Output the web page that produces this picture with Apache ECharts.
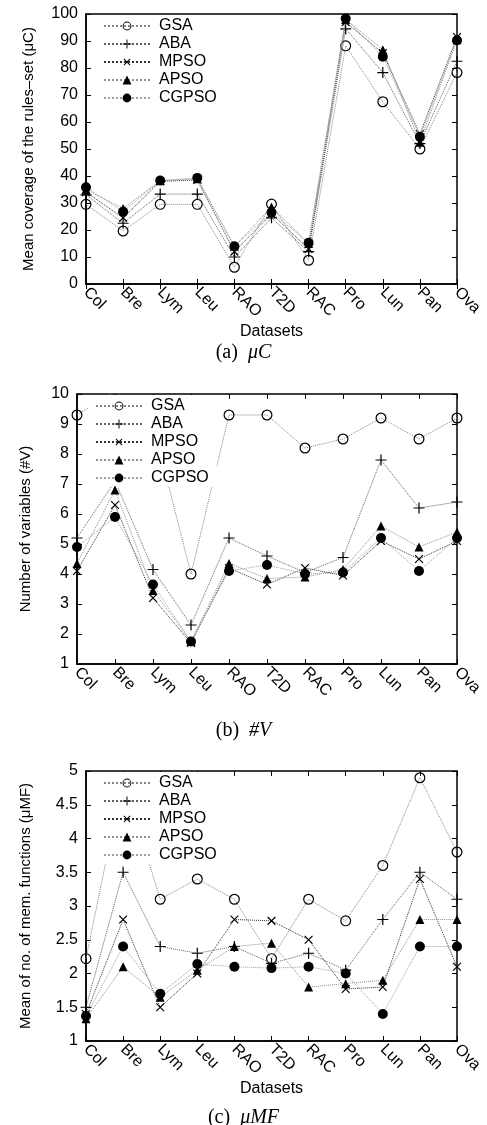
<!DOCTYPE html>
<html>
<head>
<meta charset="utf-8">
<script src="https://cdn.jsdelivr.net/npm/echarts@6/dist/echarts.min.js"></script>
<style>
  html, body { margin: 0; padding: 0; background: #fff; }
  #main { width: 487px; height: 1125px; }
</style>
</head>
<body>
<div id="main"></div>
<script>
// x ticks (datasets) and series names
const categories = ['Col', 'Bre', 'Lym', 'Leu', 'RAO', 'T2D', 'RAC', 'Pro', 'Lun', 'Pan', 'Ova'];
const algorithms = ['GSA', 'ABA', 'MPSO', 'APSO', 'CGPSO'];

// (a) mean coverage of the rules-set
const muC_GSA   = [29.5, 19.6, 29.5, 29.5, 6.2, 29.6, 8.8, 88.2, 67.5, 50.0, 78.3];
const muC_ABA   = [33.0, 22.5, 33.3, 33.3, 10.0, 24.5, 12.0, 94.5, 78.3, 52.0, 82.5];
const muC_MPSO  = [34.0, 24.5, 38.0, 38.5, 12.0, 26.0, 13.0, 97.0, 85.5, 55.5, 91.5];
const muC_APSO  = [35.0, 28.0, 38.3, 39.0, 14.0, 28.5, 15.0, 98.0, 86.8, 52.5, 90.5];
const muC_CGPSO = [35.8, 26.8, 38.3, 39.3, 14.0, 26.5, 15.3, 98.3, 84.2, 54.5, 90.3];

// (b) number of variables
const nV_GSA   = [9.3, 10.1, 9.0, 4.0, 9.3, 9.3, 8.2, 8.5, 9.2, 8.5, 9.2];
const nV_ABA   = [5.2, 7.1, 4.15, 2.3, 5.2, 4.6, 4.05, 4.55, 7.8, 6.2, 6.4];
const nV_MPSO  = [4.1, 6.3, 3.2, 1.7, 4.2, 3.65, 4.2, 3.95, 5.1, 4.5, 5.1];
const nV_APSO  = [4.35, 6.8, 3.45, 1.75, 4.35, 3.85, 3.9, 4.15, 5.6, 4.9, 5.4];
const nV_CGPSO = [4.9, 5.9, 3.65, 1.75, 4.1, 4.3, 4.0, 4.05, 5.2, 4.1, 5.2];

// (c) mean number of membership functions
const muMF_GSA   = [2.22, 4.9, 3.1, 3.4, 3.1, 2.22, 3.1, 2.78, 3.6, 4.9, 3.8];
const muMF_ABA   = [1.5, 3.5, 2.4, 2.3, 2.4, 2.15, 2.3, 2.05, 2.8, 3.5, 3.1];
const muMF_MPSO  = [1.4, 2.8, 1.5, 2.0, 2.8, 2.78, 2.5, 1.77, 1.8, 3.4, 2.1];
const muMF_APSO  = [1.33, 2.1, 1.65, 2.05, 2.4, 2.45, 1.8, 1.85, 1.9, 2.8, 2.8];
const muMF_CGPSO = [1.37, 2.4, 1.7, 2.14, 2.1, 2.08, 2.1, 2.0, 1.4, 2.4, 2.4];

const panels = [
  { data: [muC_GSA, muC_ABA, muC_MPSO, muC_APSO, muC_CGPSO], min: 0, max: 100, interval: 10,
    name: 'Mean coverage of the rules\u2013set (\u03bcC)', nameGap: 50, xName: 'Datasets',
    grid: { left: 86, top: 14, width: 371, height: 270 }, legendTop: 15, legendLeft: 97,
    caption: '{n|(a)}  {i|\u03bcC}', capTop: 338 },
  { data: [nV_GSA, nV_ABA, nV_MPSO, nV_APSO, nV_CGPSO], min: 1, max: 10, interval: 1,
    name: 'Number of variables (#V)', nameGap: 44, xName: '',
    grid: { left: 77, top: 394, width: 380, height: 270 }, legendTop: 395, legendLeft: 89,
    caption: '{n|(b)}  {i|#V}', capTop: 716 },
  { data: [muMF_GSA, muMF_ABA, muMF_MPSO, muMF_APSO, muMF_CGPSO], min: 1, max: 5, interval: 0.5,
    name: 'Mean of no. of mem. functions (\u03bcMF)', nameGap: 53, xName: 'Datasets',
    grid: { left: 86, top: 771, width: 371, height: 270 }, legendTop: 772, legendLeft: 97,
    caption: '{n|(c)}  {i|\u03bcMF}', capTop: 1103 }
];

const ringPath = 'path://M5,0A5,5 0 1,1 5,10A5,5 0 1,1 5,0Z M5,1.1A3.9,3.9 0 1,0 5,8.9A3.9,3.9 0 1,0 5,1.1Z';
const plusPath = 'path://M4.45,0H5.55V10H4.45Z M0,4.45H10V5.55H0Z';
const looks = {
  GSA:   { symbol: ringPath, size: 11, rotate: 0, line: '#858585' },
  ABA:   { symbol: plusPath, size: 11, rotate: 0, line: '#606060' },
  MPSO:  { symbol: plusPath, size: 11, rotate: 45, line: '#303030' },
  APSO:  { symbol: 'triangle', size: 9, rotate: 0, line: '#909090' },
  CGPSO: { symbol: 'circle', size: 10, rotate: 0, line: '#a0a0a0' }
};

const font = 'Liberation Sans, Arial, sans-serif';
const serif = 'Liberation Serif, Times New Roman, serif';

const option = {
  backgroundColor: '#fff',
  animation: false,
  title: [], legend: [], grid: [], xAxis: [], yAxis: [], series: []
};

panels.forEach(function (p, i) {
  option.grid.push(Object.assign({ show: true, borderColor: '#000', borderWidth: 1.5, backgroundColor: 'transparent' }, p.grid));
  // bottom axis
  option.xAxis.push({
    type: 'category', gridIndex: i, data: categories, boundaryGap: false,
    name: p.xName, nameLocation: 'middle', nameGap: 37,
    nameTextStyle: { fontFamily: font, fontSize: 16, color: '#000' },
    axisLine: { lineStyle: { color: '#000', width: 1.5 } },
    axisTick: { inside: true, length: 5, lineStyle: { color: '#000' } },
    axisLabel: { rotate: -45, margin: 6, fontFamily: font, fontSize: 16, color: '#000', interval: 0 }
  });
  // mirrored ticks on top
  option.xAxis.push({
    type: 'category', gridIndex: i, data: categories, boundaryGap: false, position: 'top',
    axisLine: { show: false }, axisLabel: { show: false },
    axisTick: { inside: true, length: 5, lineStyle: { color: '#000' } }
  });
  option.yAxis.push({
    type: 'value', gridIndex: i, min: p.min, max: p.max, interval: p.interval,
    name: p.name, nameLocation: 'middle', nameGap: p.nameGap,
    nameTextStyle: { fontFamily: font, fontSize: 15, color: '#000' },
    splitLine: { show: false },
    axisLine: { show: true, lineStyle: { color: '#000', width: 1.5 } },
    axisTick: { show: true, inside: true, length: 5, lineStyle: { color: '#000' } },
    axisLabel: { margin: 8, fontFamily: font, fontSize: 16, color: '#000' }
  });
  option.yAxis.push({
    type: 'value', gridIndex: i, min: p.min, max: p.max, interval: p.interval, position: 'right',
    splitLine: { show: false }, axisLine: { show: false }, axisLabel: { show: false },
    axisTick: { show: true, inside: true, length: 5, lineStyle: { color: '#000' } }
  });
  option.legend.push({
    orient: 'vertical', left: p.legendLeft, top: p.legendTop,
    data: algorithms, backgroundColor: '#fff', padding: [3, 8, 1, 6],
    itemWidth: 46, itemHeight: 11, itemGap: 2,
    selectedMode: false,
    textStyle: { fontFamily: font, fontSize: 16, color: '#000', lineHeight: 14, padding: [0, 0, 0, 4] }
  });
  option.title.push({
    text: p.caption, left: 'center', top: p.capTop,
    textStyle: {
      fontWeight: 'normal',
      rich: {
        n: { fontFamily: serif, fontSize: 20, fontWeight: 'normal', color: '#000' },
        i: { fontFamily: serif, fontSize: 20, fontWeight: 'normal', fontStyle: 'italic', color: '#000' }
      }
    }
  });
  algorithms.forEach(function (name, k) {
    const lk = looks[name];
    option.series.push({
      name: name, type: 'line', xAxisIndex: i * 2, yAxisIndex: i * 2,
      data: p.data[k], symbol: lk.symbol, symbolSize: lk.size, symbolRotate: lk.rotate,
      showAllSymbol: true, clip: true,
      lineStyle: { color: lk.line, width: 1, type: 'dotted' },
      itemStyle: { color: '#000', borderWidth: 0 },
      emphasis: { disabled: true },
      z: 2 + k
    });
  });
});

const chart = echarts.init(document.getElementById('main'));
chart.setOption(option);
</script>
</body>
</html>
